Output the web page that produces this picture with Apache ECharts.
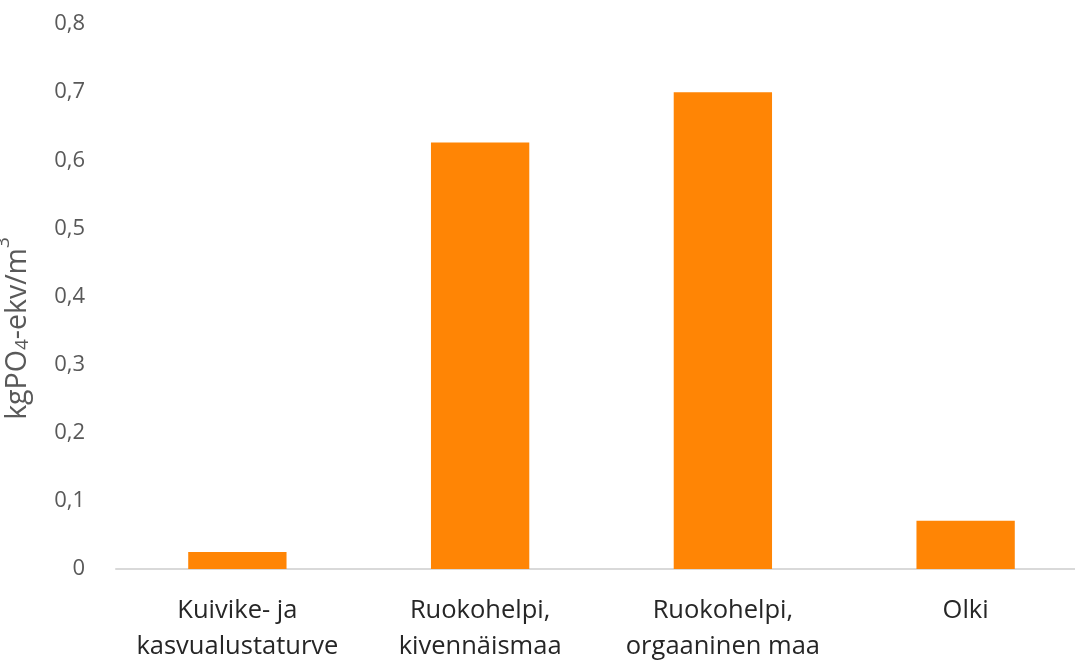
<!DOCTYPE html>
<html>
<head>
<meta charset="utf-8">
<script src="https://cdn.jsdelivr.net/npm/echarts@6/dist/echarts.min.js"></script>
<style>
  html, body { margin: 0; padding: 0; background: #fff; }
  #chart { width: 1075px; height: 662px; }
</style>
</head>
<body>
<div id="chart"></div>
<script>
// categories and values
const categories = ['Kuivike- ja\nkasvualustaturve', 'Ruokohelpi,\nkivennäismaa', 'Ruokohelpi,\norgaaninen maa', 'Olki']
const values = [0.025, 0.626, 0.700, 0.071]
const yTicks = [0, 0.1, 0.2, 0.3, 0.4, 0.5, 0.6, 0.7, 0.8]

const font = '"Open Sans", "Noto Sans", sans-serif'

let chart = echarts.init(document.getElementById('chart'))
chart.setOption({
  animation: false,
  grid: {
    left: 116,
    top: 24,
    width: 971,
    bottom: 93,
    outerBoundsMode: 'none',
    containLabel: false
  },
  xAxis: {
    type: 'category',
    data: categories,
    axisTick: { show: false },
    axisLine: { lineStyle: { color: '#d9d9d9', width: 2 } },
    axisLabel: {
      interval: 0,
      hideOverlap: false,
      color: '#262626',
      fontSize: 25.5,
      fontFamily: font,
      lineHeight: 36,
      margin: 24
    }
  },
  yAxis: {
    type: 'value',
    min: yTicks[0],
    max: yTicks[yTicks.length - 1],
    interval: 0.1,
    splitLine: { show: false },
    axisLine: { show: false },
    axisLabel: {
      color: '#595959',
      fontSize: 22,
      fontFamily: font,
      margin: 31,
      formatter: v => v === 0 ? '0' : v.toFixed(1).replace('.', ',')
    },
    name: '{a|kgPO}{s|4}{a|-ekv/m}{p|3}',
    nameLocation: 'middle',
    nameGap: 84,
    nameTextStyle: {
      padding: [0, 64, 0, 0],
      rich: {
        a: { color: '#595959', fontSize: 28.5, fontFamily: font, verticalAlign: 'bottom', lineHeight: 36 },
        s: { color: '#595959', fontSize: 19, fontFamily: font, verticalAlign: 'bottom', lineHeight: 12 },
        p: { color: '#595959', fontSize: 19, fontFamily: font, verticalAlign: 'top', lineHeight: 38 }
      }
    }
  },
  series: [
    {
      type: 'bar',
      data: values,
      barWidth: '40.5%',
      itemStyle: { color: '#ff8505' }
    }
  ]
})
</script>
</body>
</html>
